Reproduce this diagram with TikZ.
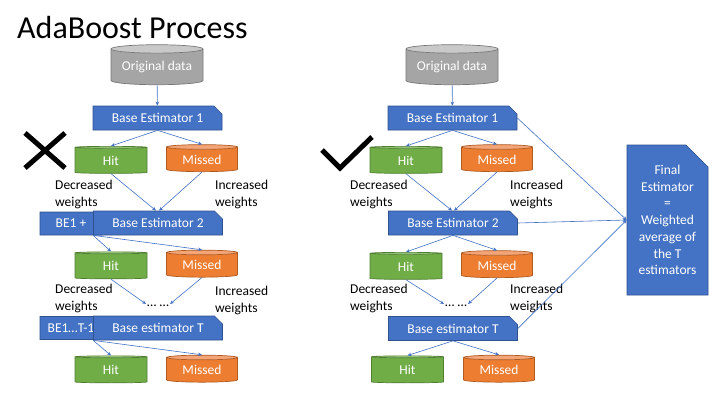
\documentclass[tikz,border=0pt]{standalone}
\usepackage{fontspec}
\setmainfont{Carlito}
\usetikzlibrary{arrows.meta, shapes.geometric, shapes.misc}
\definecolor{boxblue}{HTML}{4472C4}
\definecolor{boxline}{HTML}{2F528F}
\definecolor{hitbody}{HTML}{70AD47}
\definecolor{hittop}{HTML}{9DC97F}
\definecolor{hitline}{HTML}{507E32}
\definecolor{missbody}{HTML}{ED7D31}
\definecolor{misstop}{HTML}{F3A578}
\definecolor{missline}{HTML}{AE5A21}
\definecolor{origbody}{HTML}{A5A5A5}
\definecolor{origtop}{HTML}{C9C9C9}
\definecolor{origline}{HTML}{787878}

\begin{document}
\begin{tikzpicture}[x=1pt, y=-1pt,
        txt/.style={font=\fontsize{13.5}{17}\selectfont},
        estimator/.style={txt, chamfered rectangle, chamfered rectangle corners=north east,
                chamfered rectangle xsep=4pt, chamfered rectangle ysep=4pt,
                draw=boxline, fill=boxblue, line width=0.7pt, text=white,
                minimum width=129pt, minimum height=24pt, inner sep=0pt},
        prevbox/.style={estimator, minimum width=62pt, minimum height=23pt},
        db/.style={txt, cylinder, shape border rotate=90, aspect=0.12, cylinder uses custom fill,
                line width=0.7pt, text=white, inner sep=0pt},
        orig/.style={db, minimum width=92pt, minimum height=40pt, draw=origline,
                cylinder body fill=origbody, cylinder end fill=origtop},
        hit/.style={db, minimum width=72pt, minimum height=27pt, draw=hitline,
                cylinder body fill=hitbody, cylinder end fill=hittop},
        missed/.style={db, minimum width=71pt, minimum height=27pt, draw=missline,
                cylinder body fill=missbody, cylinder end fill=misstop},
        note/.style={txt, anchor=west, align=left, inner sep=0pt},
        dots/.style={txt, inner sep=1pt},
        link/.style={draw=boxblue, line width=0.6pt, -{Stealth[length=4pt, width=3.5pt]}},
        bigstroke/.style={line width=5pt, black}
    ]
    \fill[white] (0,0) rectangle (720,405);
    \useasboundingbox (0,0) rectangle (720,405);

    \node[anchor=base west, inner sep=0pt, font=\fontsize{32}{38}\selectfont] (title) at (17,38) {AdaBoost Process};

    \node[orig] (origL) at (157,67) {Original data};
    \node[estimator] (be1L) at (157.5,118) {Base Estimator 1};
    \node[hit] (hit1L) at (111,160.5) {Hit};
    \node[missed] (miss1L) at (202,159.5) {Missed};
    \node[note] (decr1L) at (55,194.5) {Decreased\\weights};
    \node[note] (incr1L) at (215,194.5) {Increased\\weights};
    \node[prevbox] (prev2L) at (71,223.5) {BE1 +};
    \node[estimator] (be2L) at (158,223) {Base Estimator 2};
    \node[hit] (hit2L) at (111,266) {Hit};
    \node[missed] (miss2L) at (202,265) {Missed};
    \node[note] (decr2L) at (55,298.5) {Decreased\\weights};
    \node[note] (incr2L) at (215,300.5) {Increased\\weights};
    \node[dots] (dotsL) at (158,306) {… …};
    \node[prevbox] (prevTL) at (71,328) {BE1…T-1};
    \node[estimator] (beTL) at (158,328) {Base estimator T};
    \node[hit] (hit3L) at (111,370) {Hit};
    \node[missed] (miss3L) at (202,370) {Missed};

    \node[orig] (origR) at (452,67) {Original data};
    \node[estimator] (be1R) at (452.5,118) {Base Estimator 1};
    \node[hit] (hit1R) at (406,160.5) {Hit};
    \node[missed] (miss1R) at (497,159.5) {Missed};
    \node[note] (decr1R) at (350,194.5) {Decreased\\weights};
    \node[note] (incr1R) at (510,194.5) {Increased\\weights};
    \node[estimator] (be2R) at (453,223) {Base Estimator 2};
    \node[hit] (hit2R) at (406,266.5) {Hit};
    \node[missed] (miss2R) at (497,265.5) {Missed};
    \node[note] (decr2R) at (350,298.5) {Decreased\\weights};
    \node[note] (incr2R) at (510,298.5) {Increased\\weights};
    \node[dots] (dotsR) at (456,306) {… …};
    \node[estimator] (beTR) at (453,328.5) {Base estimator T};
    \node[hit] (hit3R) at (407.5,370) {Hit};
    \node[missed] (miss3R) at (499,370) {Missed};

    \node[estimator, chamfered rectangle xsep=11pt, chamfered rectangle ysep=11pt,
        minimum width=81pt, minimum height=150pt, align=center,
        font=\fontsize{13.5}{16.7}\selectfont] (final) at (667.5,220)
        {Final\\Estimator\\=\\Weighted\\average of\\the T\\estimators};

    \draw[link] (origL) -- (be1L);
    \draw[link] (be1L.south) -- (hit1L.north);
    \draw[link] (be1L.south) -- (miss1L.north);
    \draw[link] (hit1L.south) -- ([xshift=-2pt]be2L.north);
    \draw[link] (miss1L.south) -- ([xshift=1pt]be2L.north);
    \draw[link] (be2L.south west) -- (hit2L.north);
    \draw[link] (be2L.south west) -- (miss2L.north);
    \draw[link] (hit2L.south) -- (dotsL.north west);
    \draw[link] (miss2L.south) -- (dotsL.north east);
    \draw[link] (beTL.south west) -- (hit3L.north);
    \draw[link] (beTL.south west) -- (miss3L.north);

    \draw[link] (origR) -- (be1R);
    \draw[link] (be1R.south) -- (hit1R.north);
    \draw[link] (be1R.south) -- (miss1R.north);
    \draw[link] (hit1R.south) -- ([xshift=-1pt]be2R.north);
    \draw[link] (miss1R.south) -- ([xshift=1pt]be2R.north);
    \draw[link] (be2R.south) -- (hit2R.north);
    \draw[link] (be2R.south) -- (miss2R.north);
    \draw[link] (hit2R.south) -- (dotsR.north west);
    \draw[link] (miss2R.south) -- (dotsR.north east);
    \draw[link] (beTR.south) -- (hit3R.north);
    \draw[link] (beTR.south) -- (miss3R.north);

    \draw[link] (be1R.east) -- (final.west);
    \draw[link] (be2R.east) -- (final.west);
    \draw[link] (beTR.east) -- (final.west);

    \draw[bigstroke] (25,133) -- (65,168) (65,133) -- (25,168);
    \draw[bigstroke] (322,150) -- (340,168) -- (372,137);
\end{tikzpicture}
\end{document}
